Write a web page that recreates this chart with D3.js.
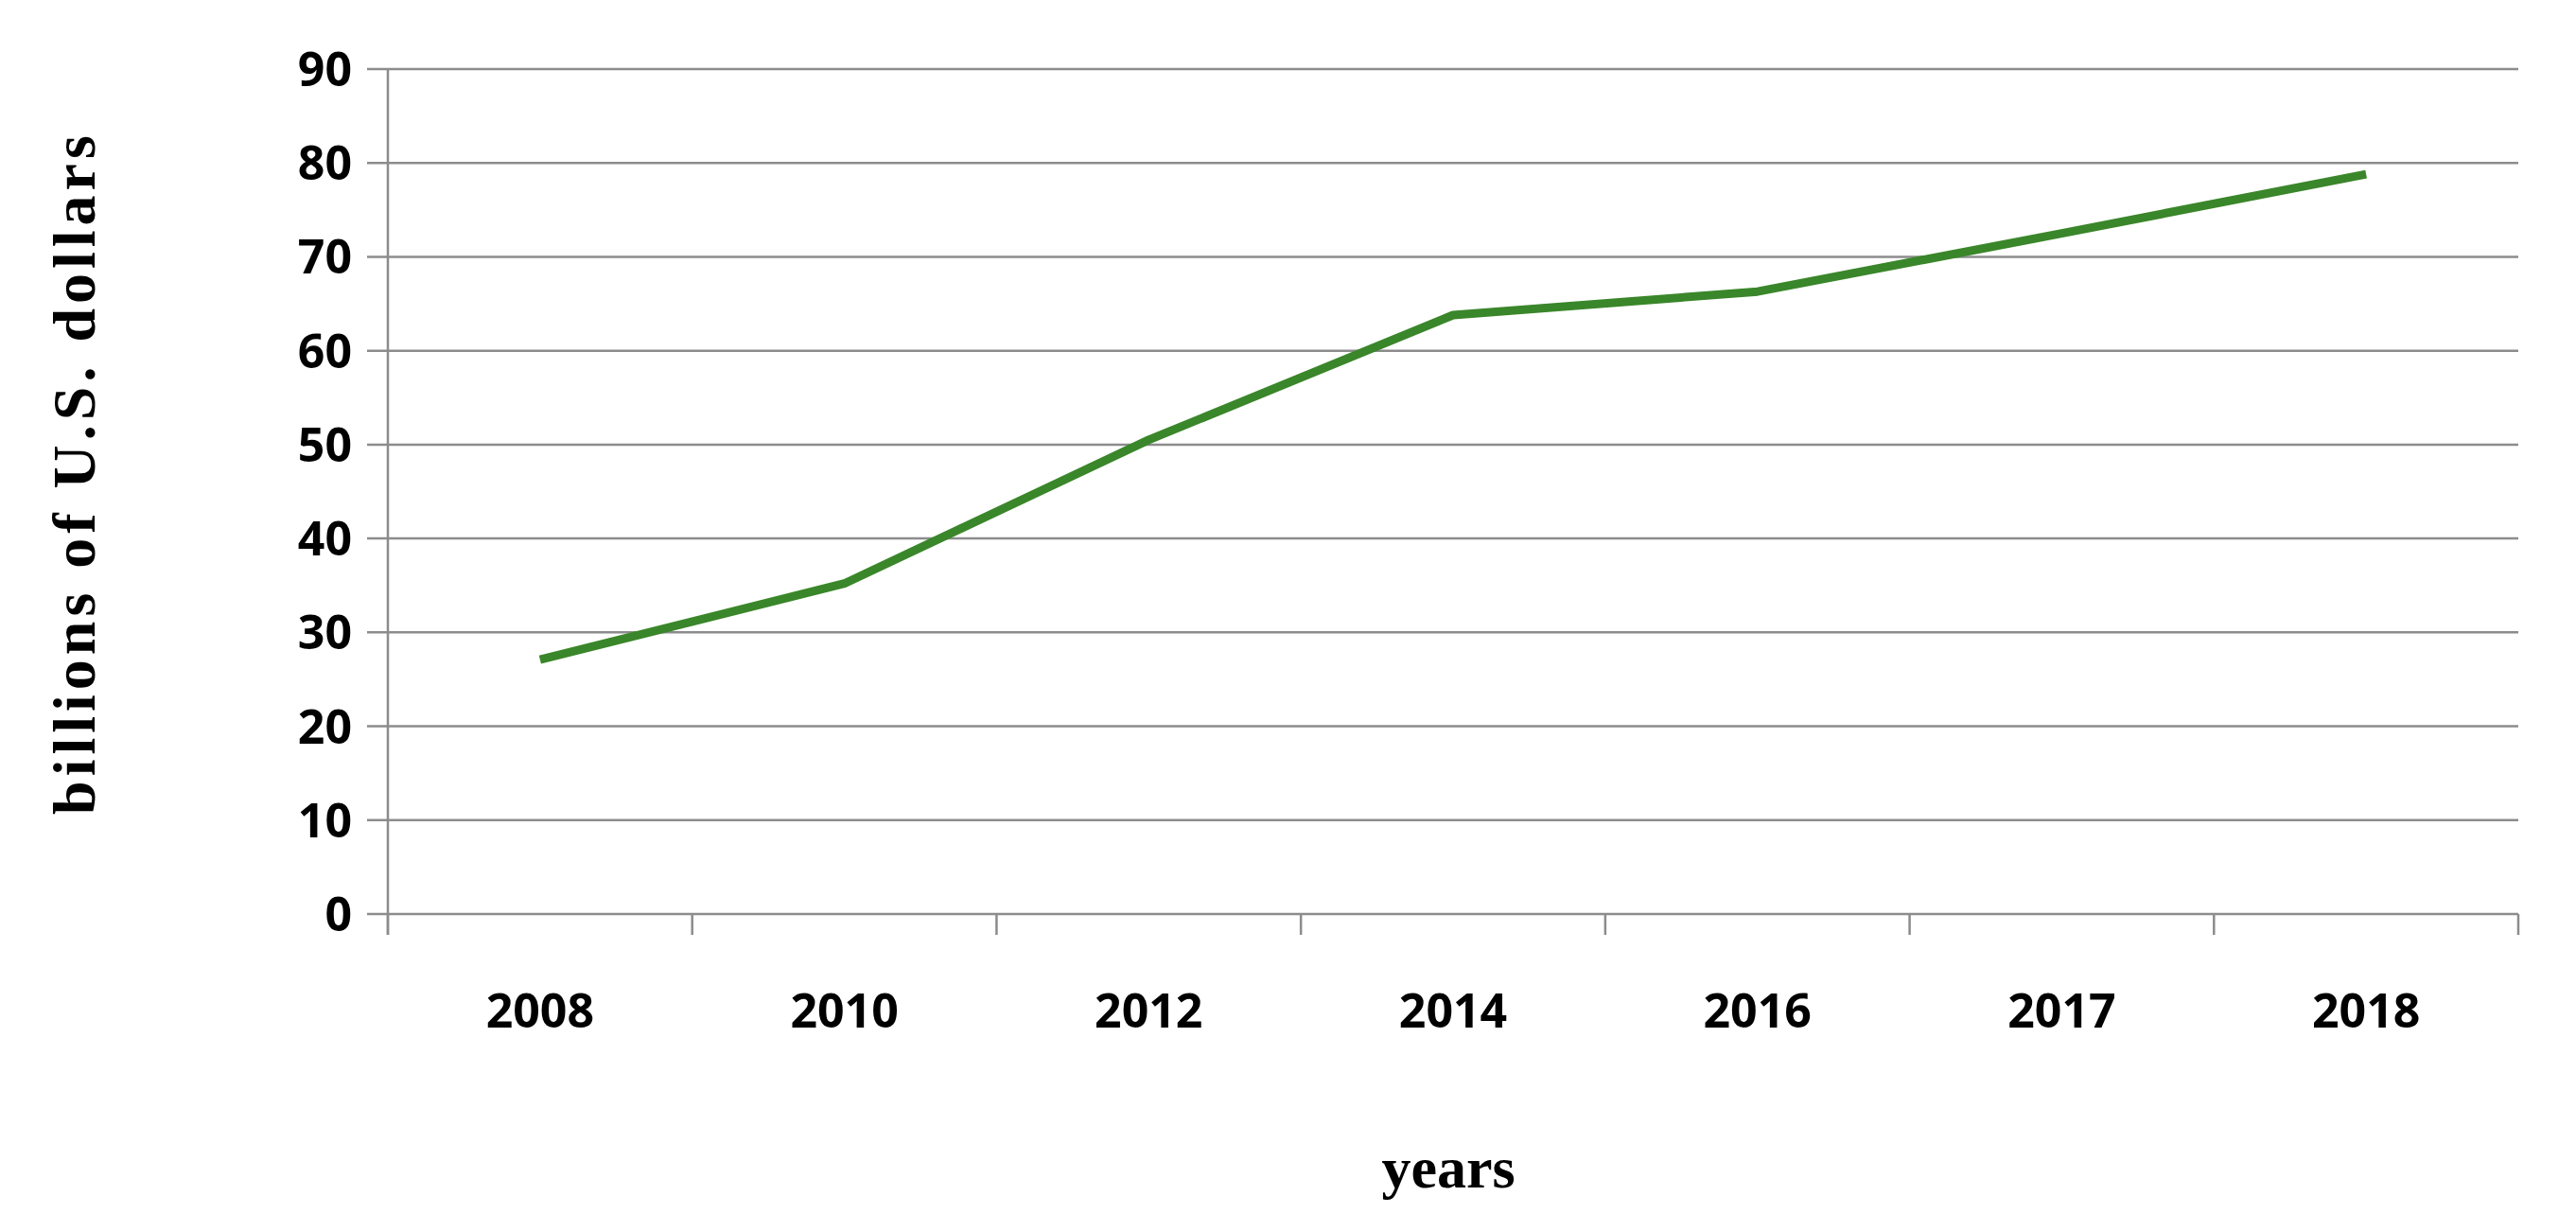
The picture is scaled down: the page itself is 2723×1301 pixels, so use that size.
<!DOCTYPE html>
<html><head><meta charset="utf-8">
<script src="https://cdn.jsdelivr.net/npm/d3@7"></script>
<style>body{margin:0;background:#fff}</style></head>
<body><svg id="c" width="2723" height="1301"></svg>
<script>
const years = ["2008","2010","2012","2014","2016","2017","2018"];
const values = [27.1, 35.2, 50.5, 63.8, 66.3, 72.5, 78.8];
const yTicks = [0,10,20,30,40,50,60,70,80,90];

const svg = d3.select("#c");
const m = {l:410, r:2662, t:73, b:966};
const x = d3.scaleBand().domain(years).range([m.l, m.r]);
const y = d3.scaleLinear().domain([0,90]).range([m.b, m.t]);
const tickFont = "'Open Sans', 'Noto Sans', sans-serif";

svg.append("g").selectAll("line").data(yTicks).join("line")
  .attr("x1", m.l-22).attr("x2", m.r).attr("y1", d=>y(d)).attr("y2", d=>y(d))
  .attr("stroke", "#8c8c8c").attr("stroke-width", 2.5);
svg.append("line").attr("x1", m.l).attr("x2", m.l).attr("y1", m.t).attr("y2", m.b+22)
  .attr("stroke", "#8c8c8c").attr("stroke-width", 2.5);
const edges = years.map(d=>x(d)).concat([m.r]);
svg.append("g").selectAll("line").data(edges).join("line")
  .attr("x1", d=>d).attr("x2", d=>d).attr("y1", m.b).attr("y2", m.b+22)
  .attr("stroke", "#8c8c8c").attr("stroke-width", 2.5);

svg.append("g").selectAll("text").data(yTicks).join("text")
  .attr("x", m.l-38).attr("y", d=>y(d)).attr("dy","0.36em").attr("text-anchor","end")
  .attr("font-family", tickFont).attr("font-weight","bold").attr("font-size",50).text(d=>d);
svg.append("g").selectAll("text").data(years).join("text")
  .attr("x", d=>x(d)+x.bandwidth()/2).attr("y", m.b+120).attr("text-anchor","middle")
  .attr("font-family", tickFont).attr("font-weight","bold").attr("font-size",50).text(d=>d);

svg.append("path").datum(values)
  .attr("d", d3.line().x((d,i)=>x(years[i])+x.bandwidth()/2).y(d=>y(d)))
  .attr("fill","none").attr("stroke","#3a862a").attr("stroke-width",9).attr("stroke-linejoin","round");

svg.append("text").attr("transform","translate(100,"+((m.t+m.b)/2-20)+") rotate(-90)")
  .attr("text-anchor","middle").attr("font-family","'Liberation Serif', serif").attr("font-weight","bold")
  .attr("font-size",64).attr("letter-spacing",5).text("billions of U.S. dollars");
svg.append("text").attr("x",(m.l+m.r)/2-5).attr("y",1255).attr("text-anchor","middle")
  .attr("font-family","'Liberation Serif', serif").attr("font-weight","bold").attr("font-size",62).text("years");
</script></body></html>
